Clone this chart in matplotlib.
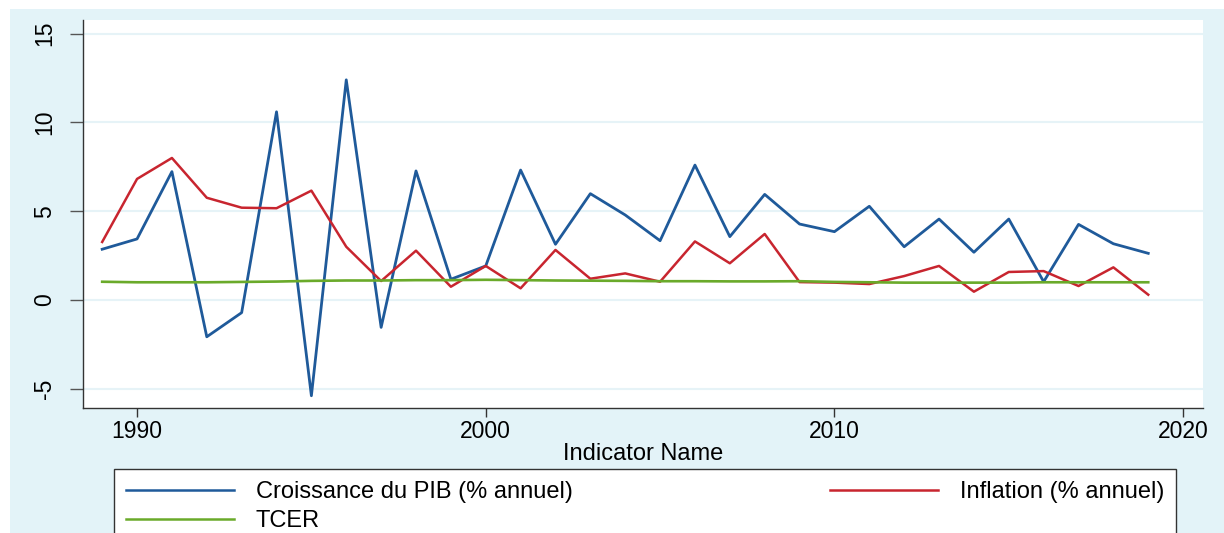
import numpy as np
import matplotlib
matplotlib.use('Agg')
import matplotlib.pyplot as plt
from matplotlib.patches import Rectangle

years = list(range(1989, 2020))

# Croissance du PIB (% annuel)
pib = [2.86, 3.44, 7.23, -2.07, -0.71, 10.6, -5.39, 12.4, -1.54, 7.27,
       1.17, 1.92, 7.32, 3.14, 5.99, 4.79, 3.34, 7.6, 3.57, 5.95,
       4.28, 3.85, 5.28, 3.0, 4.56, 2.69, 4.56, 1.03, 4.26, 3.17, 2.63]

# Inflation (% annuel)
inflation = [3.27, 6.82, 8.0, 5.76, 5.2, 5.17, 6.16, 3.0, 1.07, 2.78,
             0.75, 1.92, 0.66, 2.82, 1.2, 1.5, 1.03, 3.3, 2.07, 3.72,
             1.01, 0.98, 0.9, 1.35, 1.92, 0.47, 1.58, 1.63, 0.79, 1.84, 0.3]

# TCER
tcer = [1.03, 1.0, 1.0, 1.0, 1.02, 1.04, 1.08, 1.1, 1.1, 1.12,
        1.12, 1.14, 1.12, 1.1, 1.09, 1.08, 1.06, 1.06, 1.05, 1.05,
        1.06, 1.02, 1.0, 0.98, 0.98, 0.98, 0.98, 1.0, 1.0, 1.0, 1.0]

xticks = [1990, 2000, 2010, 2020]
yticks = [-5, 0, 5, 10, 15]

bg = '#e3f3f8'
W, H = 1224., 533.

plt.rcParams['font.family'] = ['Liberation Sans', 'DejaVu Sans']
plt.rcParams['axes.unicode_minus'] = False

fig = plt.figure(figsize=(12.24, 5.33), dpi=100)
fig.patch.set_facecolor('white')
# stata-like graph region
fig.patches.append(Rectangle((10/W, 0), 1 - 10/W, 1 - 9/H, transform=fig.transFigure,
                             facecolor=bg, edgecolor='none', zorder=-10))

ax = fig.add_axes([83/W, 1 - 408/H, (1203 - 83)/W, (408 - 20)/H])
ax.set_facecolor('white')

l1, = ax.plot(years, pib, color='#1f5a9a', lw=2.0, label='Croissance du PIB (% annuel)')
l2, = ax.plot(years, inflation, color='#c8252f', lw=1.8, label='Inflation (% annuel)')
l3, = ax.plot(years, tcer, color='#6aaa2a', lw=1.9, label='TCER')

ax.set_xlim(1988.45, 2020.57)
ax.set_ylim(-6.08, 15.77)
ax.set_xticks(xticks)
ax.set_yticks(yticks)
ax.grid(axis='y', color='#e6f3f7', lw=1.5)
ax.set_axisbelow(True)
for s in ['top', 'right']:
    ax.spines[s].set_visible(False)
for s in ['left', 'bottom']:
    ax.spines[s].set_color('#333333')
    ax.spines[s].set_linewidth(1.0)
ax.tick_params(axis='x', length=6.5, width=1.0, color='#333333', labelsize=16.5, pad=2)
ax.tick_params(axis='y', length=9.5, width=1.0, color='#555555', labelsize=16.5, pad=10)
plt.setp(ax.get_yticklabels(), rotation=90, va='center')
ax.set_xlabel('Indicator Name', fontsize=17, labelpad=0)

leg = fig.legend([l1, l3, l2], [l1.get_label(), l3.get_label(), l2.get_label()],
                 ncol=2, loc='upper left', mode='expand',
                 bbox_to_anchor=(107/W, 1 - 462/H, (1183 - 107)/W, 0.0),
                 fontsize=17, handlelength=4.6, handletextpad=0.9,
                 labelspacing=0.3, borderpad=0.5, borderaxespad=0.3, columnspacing=2.5,
                 fancybox=False, frameon=True, framealpha=1.0)
leg.get_frame().set_edgecolor('#333333')
leg.get_frame().set_linewidth(1.0)
for h in leg.legend_handles:
    h.set_linewidth(1.8)

fig.savefig('out.png', dpi=100, facecolor=fig.get_facecolor())
